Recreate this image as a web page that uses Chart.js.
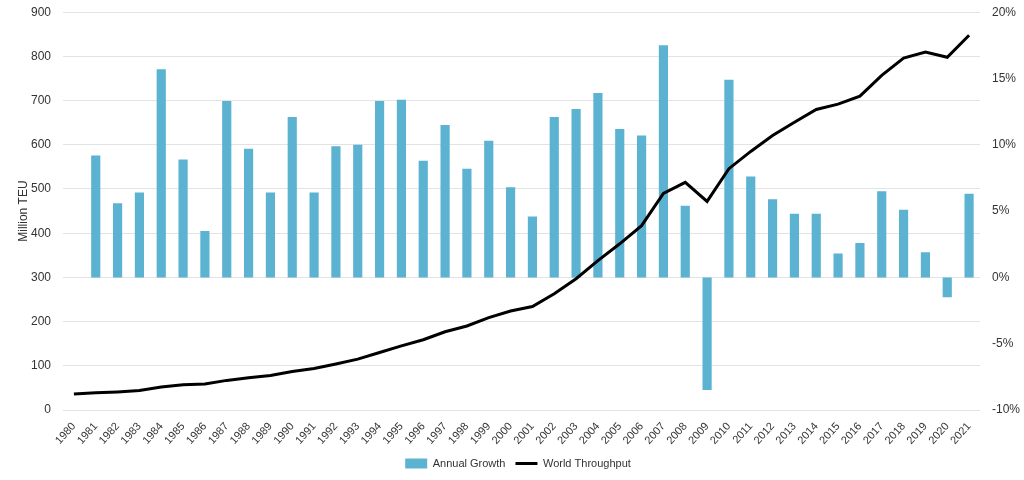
<!DOCTYPE html>
<html>
<head>
<meta charset="utf-8">
<script src="https://cdn.jsdelivr.net/npm/chart.js@4/dist/chart.umd.min.js"></script>
<style>
html,body{margin:0;padding:0;background:#fff;overflow:hidden;}
#wrap{width:1024px;height:480px;position:relative;overflow:hidden;}
#c{position:absolute;left:0;top:-7px;}
</style>
</head>
<body>
<div id="wrap"><canvas id="c" width="1024" height="487"></canvas></div>
<script>
const years = ['1980','1981','1982','1983','1984','1985','1986','1987','1988','1989','1990','1991','1992','1993','1994','1995','1996','1997','1998','1999','2000','2001','2002','2003','2004','2005','2006','2007','2008','2009','2010','2011','2012','2013','2014','2015','2016','2017','2018','2019','2020','2021'];
const annualGrowth = [null,9.2,5.6,6.4,15.7,8.9,3.5,13.3,9.7,6.4,12.1,6.4,9.9,10.0,13.3,13.4,8.8,11.5,8.2,10.3,6.8,4.6,12.1,12.7,13.9,11.2,10.7,17.5,5.4,-8.5,14.9,7.6,5.9,4.8,4.8,1.8,2.6,6.5,5.1,1.9,-1.5,6.3];
const worldThroughput = [36,39,41,44,52,57,59,67,73,78,87,94,104,115,130,145,159,177,190,209,224,234,263,297,338,376,417,490,515,472,546,585,621,651,680,692,710,757,796,810,798,848];
const leftTicks = [0,100,200,300,400,500,600,700,800,900];
const rightTicks = [-10,-5,0,5,10,15,20];

Chart.defaults.font.family = '"Liberation Sans", Arial, sans-serif';
Chart.defaults.font.size = 12;
Chart.defaults.color = '#333';

new Chart(document.getElementById('c'), {
  data: {
    labels: years,
    datasets: [
      {type:'bar', label:'Annual Growth', data: annualGrowth, yAxisID:'y1',
       backgroundColor:'#5BB2D1', borderWidth:0, categoryPercentage:1, barPercentage:0.42, order:2},
      {type:'line', label:'World Throughput', data: worldThroughput, yAxisID:'y',
       borderColor:'#000', backgroundColor:'#000', borderWidth:3, pointRadius:0, tension:0, order:1}
    ]
  },
  options: {
    responsive:false, animation:false,
    layout:{padding:{left:12,right:0,top:0,bottom:1}},
    plugins:{
      legend:{position:'bottom',
        labels:{usePointStyle:true, pointStyleWidth:22, boxHeight:10, padding:10, color:'#333', font:{size:11},
          sort:(a,b)=>a.datasetIndex-b.datasetIndex,
          generateLabels:(chart)=>chart.data.datasets.map((d,i)=>({
            text:d.label, datasetIndex:i, fillStyle:d.type==='bar'?'#5BB2D1':'#000',
            strokeStyle:d.type==='bar'?'#5BB2D1':'#000', lineWidth:d.type==='bar'?0:3,
            pointStyle:d.type==='bar'?'rect':'line', hidden:false, fontColor:'#333'}))
        }},
      tooltip:{enabled:false}
    },
    scales:{
      x:{grid:{display:false}, border:{display:false},
         afterFit:(s)=>{s.height = 38;},
         ticks:{autoSkip:false, maxRotation:48, minRotation:48, padding:2, color:'#333', font:{size:11}}},
      y:{position:'left', min:0, max:900,
         afterBuildTicks:(s)=>{s.ticks = leftTicks.map(v=>({value:v}));},
         afterFit:(s)=>{s.width = 51;},
         grid:{color:'#e3e3e3', drawTicks:false, lineWidth:1}, border:{display:false},
         ticks:{padding:12, color:'#333'},
         title:{display:true, text:'Million TEU', color:'#333', font:{size:12}, padding:{bottom:4}}},
      y1:{position:'right', min:-10, max:20,
         afterBuildTicks:(s)=>{s.ticks = rightTicks.map(v=>({value:v}));},
         afterFit:(s)=>{s.width = 44;},
         grid:{display:false, drawTicks:false}, border:{display:false},
         ticks:{padding:12, color:'#333', callback:(v)=>v+'%'}}
    }
  }
});
</script>
</body>
</html>
